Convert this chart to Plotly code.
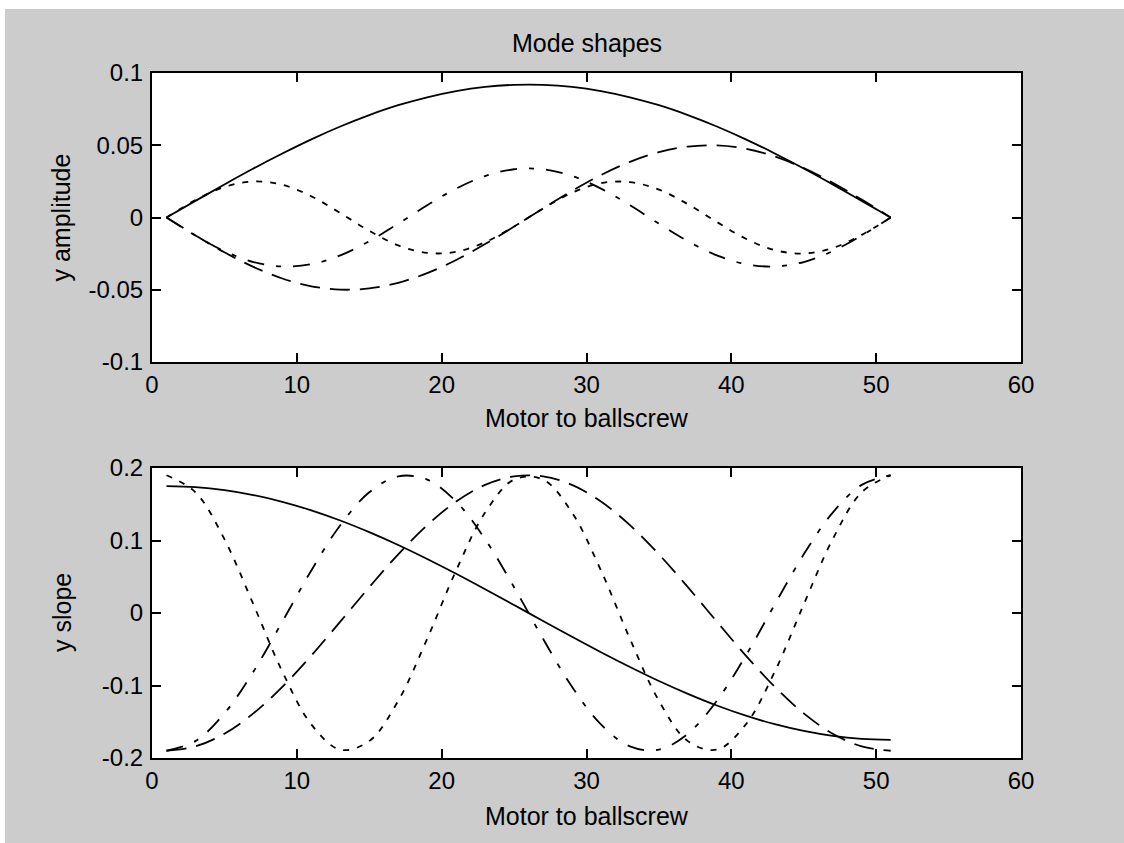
import plotly.graph_objects as go

# ---------------- data ----------------
x_nodes = [1, 3, 5, 7, 9, 11, 13, 15, 17, 19, 21, 23, 25, 27, 29, 31, 33, 35, 37, 39, 41, 43, 45, 47, 49, 51]

# Mode shapes (y amplitude)
amp_mode1 = [0.0, 0.0115, 0.0229, 0.0339, 0.0443, 0.0541, 0.0630, 0.0709, 0.0777, 0.0832, 0.0875, 0.0904, 0.0918,
             0.0918, 0.0904, 0.0875, 0.0832, 0.0777, 0.0709, 0.0630, 0.0541, 0.0443, 0.0339, 0.0229, 0.0115, 0.0]
amp_mode2 = [0.0, -0.0124, -0.0241, -0.0342, -0.0422, -0.0476, -0.0499, -0.0491, -0.0452, -0.0385, -0.0294, -0.0184, -0.0063,
             0.0063, 0.0184, 0.0294, 0.0385, 0.0452, 0.0491, 0.0499, 0.0476, 0.0422, 0.0342, 0.0241, 0.0124, 0.0]
amp_mode3 = [0.0, -0.0125, -0.0233, -0.0308, -0.0339, -0.0323, -0.0262, -0.0164, -0.0043, 0.0085, 0.0200, 0.0287, 0.0334,
             0.0334, 0.0287, 0.0200, 0.0085, -0.0043, -0.0164, -0.0262, -0.0323, -0.0339, -0.0308, -0.0233, -0.0125, 0.0]
amp_mode4 = [0.0, 0.0120, 0.0211, 0.0249, 0.0226, 0.0147, 0.0031, -0.0092, -0.0193, -0.0245, -0.0238, -0.0171, -0.0062,
             0.0062, 0.0171, 0.0238, 0.0245, 0.0193, 0.0092, -0.0031, -0.0147, -0.0226, -0.0249, -0.0211, -0.0120, 0.0]

# Slopes (y slope)
slope_mode1 = [0.175, 0.1736, 0.1695, 0.1627, 0.1534, 0.1416, 0.1276, 0.1115, 0.0938, 0.0745, 0.0541, 0.0328, 0.0110,
               -0.0110, -0.0328, -0.0541, -0.0745, -0.0938, -0.1115, -0.1276, -0.1416, -0.1534, -0.1627, -0.1695, -0.1736, -0.175]
slope_mode2 = [-0.19, -0.184, -0.1665, -0.1385, -0.1018, -0.0587, -0.0119, 0.0356, 0.0809, 0.1211, 0.1537, 0.1767, 0.1885,
               0.1885, 0.1767, 0.1537, 0.1211, 0.0809, 0.0356, -0.0119, -0.0587, -0.1018, -0.1385, -0.1665, -0.184, -0.19]
slope_mode3 = [-0.19, -0.1767, -0.1385, -0.0809, -0.0119, 0.0587, 0.1211, 0.1665, 0.1885, 0.184, 0.1537, 0.1018, 0.0356,
               -0.0356, -0.1018, -0.1537, -0.184, -0.1885, -0.1665, -0.1211, -0.0587, 0.0119, 0.0809, 0.1385, 0.1767, 0.19]
slope_mode4 = [0.19, 0.1665, 0.1018, 0.0119, -0.0809, -0.1537, -0.1885, -0.1767, -0.1211, -0.0356, 0.0587, 0.1385, 0.184,
               0.184, 0.1385, 0.0587, -0.0356, -0.1211, -0.1767, -0.1885, -0.1537, -0.0809, 0.0119, 0.1018, 0.1665, 0.19]

x_tickvals = [0, 10, 20, 30, 40, 50, 60]
x_ticktext = ["0", "10", "20", "30", "40", "50", "60"]
amp_tickvals = [-0.1, -0.05, 0, 0.05, 0.1]
amp_ticktext = ["-0.1", "-0.05", "0", "0.05", "0.1"]
slope_tickvals = [-0.2, -0.1, 0, 0.1, 0.2]
slope_ticktext = ["-0.2", "-0.1", "0", "0.1", "0.2"]

title_text = "Mode shapes"
x_label = "Motor to ballscrew"
amp_label = "y amplitude"
slope_label = "y slope"

# ---------------- figure ----------------
W, H = 1124, 843
FONT = "Liberation Sans, Arial, sans-serif"
FS = 24

styles = ["solid", "20px,10px", "17px,12px,5px,12px", "6px,8px"]

fig = go.Figure()
amp_series = [amp_mode1, amp_mode2, amp_mode3, amp_mode4]
slope_series = [slope_mode1, slope_mode2, slope_mode3, slope_mode4]
for ys, dash in zip(amp_series, styles):
    fig.add_trace(go.Scatter(x=x_nodes, y=ys, mode="lines", xaxis="x", yaxis="y",
                             line=dict(color="black", width=1.8, dash=dash, shape="spline", smoothing=1.0),
                             showlegend=False, hoverinfo="skip"))
for ys, dash in zip(slope_series, styles):
    fig.add_trace(go.Scatter(x=x_nodes, y=ys, mode="lines", xaxis="x2", yaxis="y2",
                             line=dict(color="black", width=1.8, dash=dash, shape="spline", smoothing=1.0),
                             showlegend=False, hoverinfo="skip"))

xl, xr = 152, 1021
top_t, top_b = 73, 362
bot_t, bot_b = 468, 758

def px_x(p):
    return p / W

def px_y(p):
    return 1 - p / H

axis_common = dict(showline=True, linecolor="black", linewidth=2, mirror="ticks",
                   ticks="inside", ticklen=9, tickwidth=1.5, tickcolor="black",
                   showgrid=False, zeroline=False, automargin=False,
                   tickfont=dict(family=FONT, size=FS, color="black"))

fig.update_layout(
    width=W, height=H,
    margin=dict(l=0, r=0, t=0, b=0, pad=0),
    paper_bgcolor="#cccccc",
    plot_bgcolor="white",
    xaxis=dict(domain=[px_x(xl), px_x(xr)], range=[0, 60], anchor="y",
               tickvals=x_tickvals, ticktext=x_ticktext, ticklabelstandoff=0, **axis_common),
    yaxis=dict(domain=[px_y(top_b), px_y(top_t)], range=[-0.1, 0.1], anchor="x",
               tickvals=amp_tickvals, ticktext=amp_ticktext, ticklabelstandoff=2, **axis_common),
    xaxis2=dict(domain=[px_x(xl), px_x(xr)], range=[0, 60], anchor="y2",
                tickvals=x_tickvals, ticktext=x_ticktext, ticklabelstandoff=0, **axis_common),
    yaxis2=dict(domain=[px_y(bot_b), px_y(bot_t)], range=[-0.2, 0.2], anchor="x2",
                tickvals=slope_tickvals, ticktext=slope_ticktext, ticklabelstandoff=2, **axis_common),
    shapes=[
        dict(type="rect", xref="paper", yref="paper", x0=0, x1=1, y0=px_y(9), y1=1,
             fillcolor="white", line=dict(width=0), layer="below"),
        dict(type="rect", xref="paper", yref="paper", x0=0, x1=px_x(5), y0=0, y1=1,
             fillcolor="white", line=dict(width=0), layer="below"),
    ],
    annotations=[
        dict(text=title_text, x=px_x((xl + xr) / 2), y=px_y(43), xref="paper", yref="paper",
             xanchor="center", yanchor="middle", showarrow=False,
             font=dict(family=FONT, size=FS + 1, color="black")),
        dict(text=x_label, x=px_x((xl + xr) / 2), y=px_y(418), xref="paper", yref="paper",
             xanchor="center", yanchor="middle", showarrow=False,
             font=dict(family=FONT, size=FS + 1, color="black")),
        dict(text=x_label, x=px_x((xl + xr) / 2), y=px_y(816), xref="paper", yref="paper",
             xanchor="center", yanchor="middle", showarrow=False,
             font=dict(family=FONT, size=FS + 1, color="black")),
        dict(text=amp_label, x=px_x(60), y=px_y((top_t + top_b) / 2), xref="paper", yref="paper",
             xanchor="center", yanchor="middle", showarrow=False, textangle=-90,
             font=dict(family=FONT, size=FS + 1, color="black")),
        dict(text=slope_label, x=px_x(62), y=px_y((bot_t + bot_b) / 2), xref="paper", yref="paper",
             xanchor="center", yanchor="middle", showarrow=False, textangle=-90,
             font=dict(family=FONT, size=FS + 1, color="black")),
    ],
)

fig.write_html("out.html",
               config={"displayModeBar": False},
               post_script="document.body.style.margin='0';document.body.style.padding='0';"
                           "document.body.style.overflow='hidden';")
